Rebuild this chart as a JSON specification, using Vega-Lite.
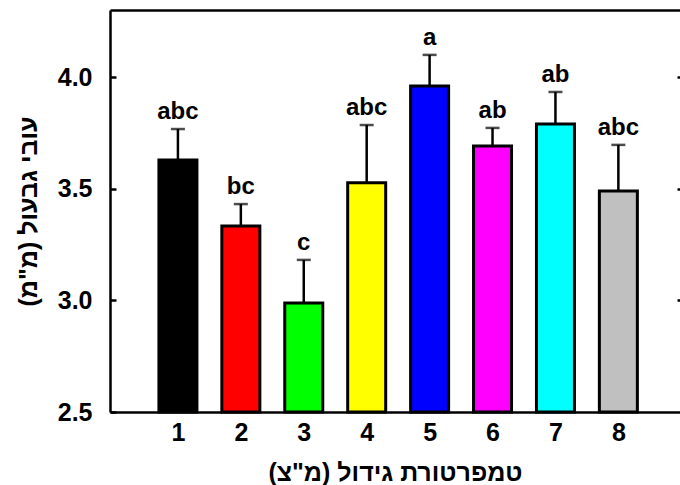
{
  "$schema": "https://vega.github.io/schema/vega-lite/v6.json",
  "width": 570,
  "height": 402,
  "autosize": "none",
  "padding": {"left": 110, "top": 10, "right": 0, "bottom": 73},
  "background": "white",
  "config": {
    "view": {"stroke": null},
    "font": "Liberation Sans",
    "axis": {"grid": false, "domainColor": "black", "tickColor": "black", "labelColor": "black", "titleColor": "black", "domainWidth": 2.5, "tickWidth": 2.5, "labelFont": "Liberation Sans", "titleFont": "Liberation Sans", "labelFontWeight": "bold", "titleFontWeight": "bold", "labelFontSize": 25, "titleFontSize": 25, "labelFlush": false},
    "axisLeft": {"tickSize": -6, "labelPadding": 24, "titlePadding": 16},
    "axisBottom": {"ticks": false, "labelPadding": 8, "titlePadding": 15},
    "axisTop": {"ticks": false, "labels": false},
    "axisRight": {"labels": false, "domain": false, "tickSize": -3}
  },
  "data": {
    "values": [
      {"t": 1, "mean": 3.628, "upper": 3.767, "grp": "abc"},
      {"t": 2, "mean": 3.333, "upper": 3.431, "grp": "bc"},
      {"t": 3, "mean": 2.988, "upper": 3.181, "grp": "c"},
      {"t": 4, "mean": 3.526, "upper": 3.785, "grp": "abc"},
      {"t": 5, "mean": 3.960, "upper": 4.099, "grp": "a"},
      {"t": 6, "mean": 3.691, "upper": 3.772, "grp": "ab"},
      {"t": 7, "mean": 3.790, "upper": 3.933, "grp": "ab"},
      {"t": 8, "mean": 3.490, "upper": 3.696, "grp": "abc"}
    ]
  },
  "resolve": {"axis": {"x": "independent", "y": "independent"}},
  "layer": [
    {
      "mark": {"type": "bar", "size": 38, "stroke": "black", "strokeWidth": 3},
      "encoding": {
        "x": {"field": "t", "type": "quantitative", "scale": {"domain": [0, 8.9], "nice": false, "zero": false},
              "axis": {"orient": "bottom", "values": [1, 2, 3, 4, 5, 6, 7, 8], "format": "d", "title": "טמפרטורת גידול (מ\"צ)"}},
        "y": {"field": "mean", "type": "quantitative", "scale": {"domain": [2.5, 4.3], "nice": false, "zero": false},
              "axis": {"orient": "left", "values": [2.5, 3.0, 3.5, 4.0], "format": ".1f", "title": "עובי גבעול (מ\"מ)"}},
        "y2": {"datum": 2.5},
        "color": {"field": "t", "type": "nominal", "legend": null,
                  "scale": {"domain": [1, 2, 3, 4, 5, 6, 7, 8], "range": ["#000000", "#ff0000", "#00ff00", "#ffff00", "#0000ff", "#ff00ff", "#00ffff", "#c0c0c0"]}}
      }
    },
    {
      "mark": {"type": "rule", "stroke": "black", "strokeWidth": 2.5},
      "encoding": {
        "x": {"field": "t", "type": "quantitative", "axis": {"orient": "top", "title": null}},
        "y": {"field": "mean", "type": "quantitative", "axis": {"orient": "right", "values": [3.0, 3.5, 4.0], "title": null}},
        "y2": {"field": "upper"}
      }
    },
    {
      "mark": {"type": "tick", "orient": "horizontal", "size": 14, "thickness": 2.5, "color": "black"},
      "encoding": {
        "x": {"field": "t", "type": "quantitative", "axis": null},
        "y": {"field": "upper", "type": "quantitative", "axis": null}
      }
    },
    {
      "mark": {"type": "text", "fontSize": 24, "fontWeight": "bold", "color": "black", "baseline": "alphabetic", "dy": -10},
      "encoding": {
        "x": {"field": "t", "type": "quantitative", "axis": null},
        "y": {"field": "upper", "type": "quantitative", "axis": null},
        "text": {"field": "grp"}
      }
    }
  ]
}
